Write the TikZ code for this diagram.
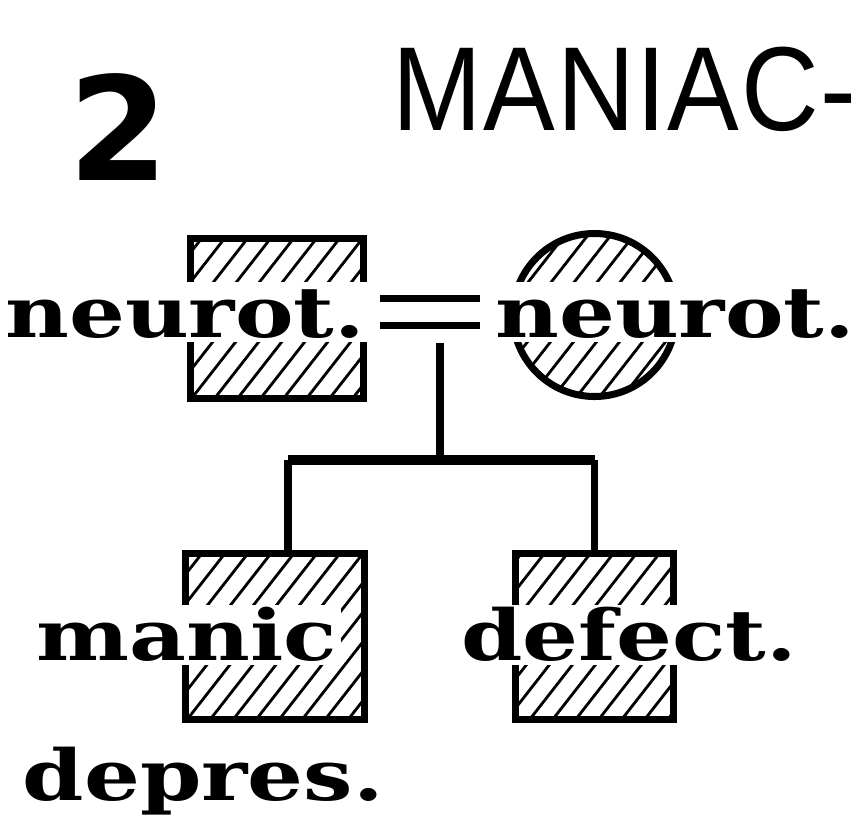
\documentclass[tikz,border=0pt]{standalone}
\usepackage{fontspec}
\setmainfont{DejaVu Serif}
\newfontfamily\headfont[LetterSpace=1.5]{Liberation Sans}
\newfontfamily\numfont{DejaVu Sans}
\usetikzlibrary{positioning,calc}

\begin{document}
\begin{tikzpicture}[
  font=\fontsize{20}{24}\selectfont\bfseries,
  hatch/.style={path picture={
      \foreach \k in {-10,...,10}
        \draw[line width=0.8pt] ([xshift=\k*2.3mm]path picture bounding box.center)
          ++(232:1.7cm) -- ++(52:3.4cm);}},
  male/.style={draw, line width=2pt, hatch, inner sep=0pt},
  female/.style={draw, circle, line width=2pt, hatch, inner sep=0pt},
  lbl/.style={fill=white, inner xsep=1pt, inner ysep=0.5mm, text height=5mm, text depth=0pt, anchor=base west, xscale=1.25},
  rel/.style={line width=2pt},
  sibs/.style={line width=3pt}
]
\useasboundingbox (0,0) rectangle (8.57,-8.25);
% heading
\node[anchor=base west, inner sep=0pt, font=\numfont\bfseries\fontsize{41}{45}\selectfont] (num) at (0.68,-1.80) {2};
\node[anchor=base west, inner sep=0pt, xscale=0.9, font=\headfont\fontsize{34}{38}\selectfont] (title) at (3.92,-1.30) {MANIAC-};
% parents
\node[male, minimum width=1.73cm, minimum height=1.60cm] (father) at (2.77,-3.185) {};
\node[female, minimum size=1.63cm] (mother) at (5.945,-3.15) {};
% children
\node[male, minimum width=1.79cm, minimum height=1.66cm] (son) at (2.75,-6.365) {};
\node[male, minimum width=1.58cm, minimum height=1.66cm] (son2) at (5.945,-6.365) {};
% labels
\node[lbl] (fatherlbl) at (0.0,-3.37) {neurot.};
\node[lbl] (motherlbl) at (4.90,-3.37) {neurot.};
\node[lbl] (sonlbl) at (0.31,-6.60) {manic};
\node[lbl] (son2lbl) at (4.56,-6.60) {defect.};
\node[anchor=base west, inner sep=0pt, xscale=1.25] (sondep) at (0.22,-8.00) {depres.};
% marriage and descent
\draw[rel] ([shift={(1mm,1.35mm)}]fatherlbl.east) -- ([shift={(-1mm,1.35mm)}]motherlbl.west);
\draw[rel] ([shift={(1mm,-1.35mm)}]fatherlbl.east) -- ([shift={(-1mm,-1.35mm)}]motherlbl.west);
\coordinate (drop) at (4.40,-3.43);
\coordinate (fork) at (4.40,-4.60);
\coordinate (sontop) at ([xshift=1.3mm]son.north);
\draw[rel] (drop) -- (fork);
\draw[sibs] (sontop |- fork) -- (son2.north |- fork);
\draw[rel] (sontop |- fork) -- (sontop);
\draw[rel] (son2.north |- fork) -- (son2.north);
\end{tikzpicture}
\end{document}
